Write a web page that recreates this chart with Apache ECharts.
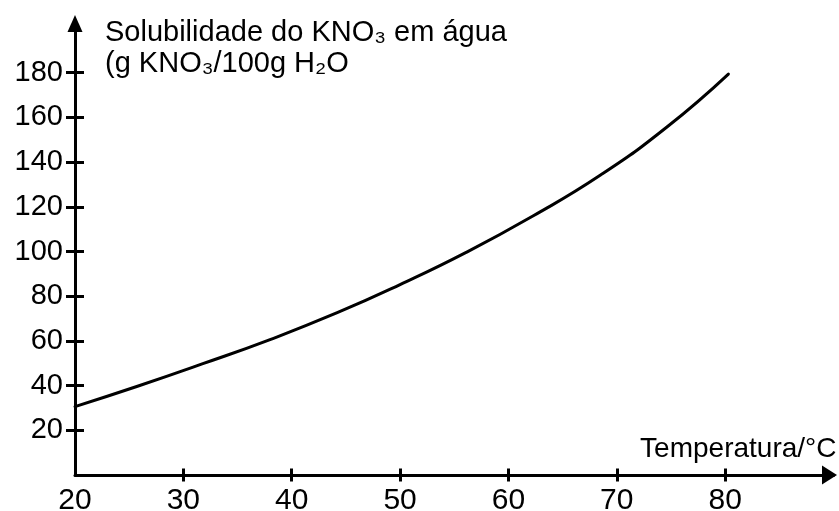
<!DOCTYPE html>
<html>
<head>
<meta charset="utf-8">
<title>Solubilidade do KNO3</title>
<script src="https://cdn.jsdelivr.net/npm/echarts@6/dist/echarts.min.js"></script>
<style>
html, body { margin: 0; padding: 0; background: #fff; }
#chart { width: 839px; height: 511px; }
</style>
</head>
<body>
<div id="chart"></div>
<script>
// valores (temperatura em °C, solubilidade em g/100g H2O)
var temperatura = [20, 25.7, 31.8, 38.0, 44.2, 50.0, 56.1, 62.3, 68.5, 74.6, 80.3];
var solubilidade = [30.6, 39.6, 49.8, 60.6, 72.6, 85.2, 99.6, 116.0, 134.2, 155.6, 179.4];
var xTicks = [20, 30, 40, 50, 60, 70, 80];
var yTicks = [20, 40, 60, 80, 100, 120, 140, 160, 180];

var fonte = "'Liberation Sans', Arial, sans-serif";

var pontos = [];
for (var i = 0; i < temperatura.length; i++) {
	pontos.push([temperatura[i], solubilidade[i]]);
}

var chart = echarts.init(document.getElementById("chart"));
chart.setOption({
	animation: false,
	backgroundColor: "#fff",
	title: {
		text: "Solubilidade do KNO₃ em água\n(g KNO₃/100g H₂O",
		left: 100,
		top: 12,
		textStyle: {
			fontFamily: fonte,
			fontSize: 29,
			fontWeight: "normal",
			color: "#000",
			lineHeight: 31
		}
	},
	grid: {
		left: 75,
		right: 5.5,
		top: 28,
		bottom: 36,
		containLabel: false,
		outerBoundsMode: "none"
	},
	xAxis: [
		{
			type: "value",
			min: 20,
			max: 90,
			interval: 10,
			position: "bottom",
			name: "Temperatura/°C",
			nameLocation: "end",
			nameGap: 3,
			nameTextStyle: {
				fontFamily: fonte,
				fontSize: 28,
				color: "#000",
				align: "right",
				verticalAlign: "bottom",
				padding: [0, 0, 12, 0]
			},
			axisLine: {
				show: true,
				symbol: ["none", "triangle"],
				symbolSize: [19, 15],
				symbolOffset: [0, -4],
				lineStyle: { color: "#000", width: 3 }
			},
			axisTick: {
				show: true,
				length: 6.5,
				customValues: xTicks.slice(1),
				lineStyle: { color: "#000", width: 3 }
			},
			axisLabel: {
				show: true,
				margin: 11,
				customValues: xTicks,
				fontFamily: fonte,
				fontSize: 30,
				color: "#000"
			},
			splitLine: { show: false }
		},
		{
			// segunda escala só para os traços que cruzam o eixo
			type: "value",
			min: 20,
			max: 90,
			interval: 10,
			position: "bottom",
			axisLine: { show: false },
			axisTick: {
				show: true,
				inside: true,
				length: 6.5,
				customValues: xTicks.slice(1),
				lineStyle: { color: "#000", width: 3 }
			},
			axisLabel: { show: false },
			splitLine: { show: false }
		}
	],
	yAxis: [
		{
			type: "value",
			min: 0,
			max: 200,
			interval: 20,
			position: "left",
			axisLine: {
				show: true,
				symbol: ["none", "triangle"],
				symbolSize: [15, 17],
				symbolOffset: [0, 4.5],
				lineStyle: { color: "#000", width: 3 }
			},
			axisTick: {
				show: true,
				length: 9,
				customValues: yTicks,
				lineStyle: { color: "#000", width: 3 }
			},
			axisLabel: {
				show: true,
				margin: 12,
				customValues: yTicks,
				fontFamily: fonte,
				fontSize: 29,
				color: "#000"
			},
			splitLine: { show: false }
		},
		{
			type: "value",
			min: 0,
			max: 200,
			interval: 20,
			position: "left",
			axisLine: { show: false },
			axisTick: {
				show: true,
				inside: true,
				length: 9,
				customValues: yTicks,
				lineStyle: { color: "#000", width: 3 }
			},
			axisLabel: { show: false },
			splitLine: { show: false }
		}
	],
	series: [
		{
			name: "KNO3",
			type: "line",
			xAxisIndex: 0,
			yAxisIndex: 0,
			smooth: true,
			symbol: "none",
			lineStyle: { color: "#000", width: 3, cap: "round" },
			data: pontos
		}
	]
});
</script>
</body>
</html>
